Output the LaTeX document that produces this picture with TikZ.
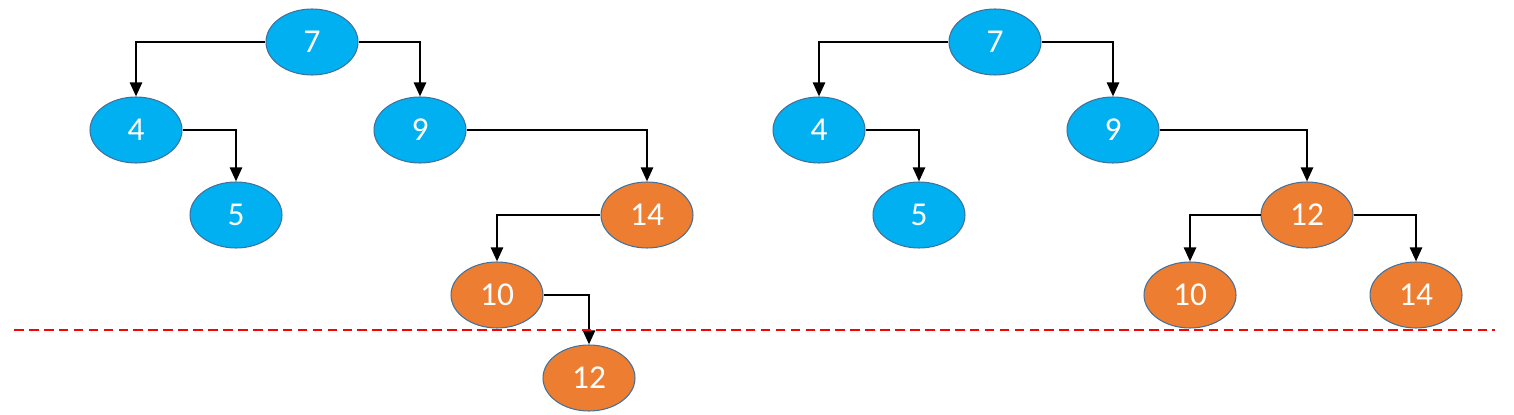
\documentclass[tikz,border=0pt]{standalone}
\usepackage{fontspec}
\setmainfont{Carlito}
\usetikzlibrary{arrows.meta,shapes.geometric}
\definecolor{nodeblue}{HTML}{00B0F0}
\definecolor{nodeorange}{HTML}{ED7D31}
\definecolor{rimblue}{HTML}{41719C}
\definecolor{cutred}{HTML}{FF0000}
\tikzset{
  bluenode/.style={ellipse, draw=rimblue, line width=0.6pt, fill=nodeblue,
    minimum width=1.84cm, minimum height=1.32cm, inner sep=0pt,
    text=white, font=\fontsize{19}{21}\selectfont},
  orangenode/.style={bluenode, fill=nodeorange},
  link/.style={-{Triangle[length=2.8mm,width=2.4mm]}, line width=1.4pt, draw=black},
  cutline/.style={dash pattern=on 5.5pt off 3pt, line width=1.2pt, draw=cutred}
}
\begin{document}
\begin{tikzpicture}[x=0.02cm, y=-0.02cm]
    \useasboundingbox (0,0) rectangle (1514,415);
    % before rotation
    \node[bluenode] (l7) at (312,42) {7};
    \node[bluenode] (l4) at (136,130) {4};
    \node[bluenode] (l9) at (420,130) {9};
    \node[bluenode] (l5) at (236,215) {5};
    \node[orangenode] (l14) at (647,215) {14};
    \node[orangenode] (l10) at (497,295) {10};
    \node[orangenode] (l12) at (589,378) {12};
    \draw[link] (l7.west) -| (l4.north);
    \draw[link] (l7.east) -| (l9.north);
    \draw[link] (l4.east) -| (l5.north);
    \draw[link] (l9.east) -| (l14.north);
    \draw[link] (l14.west) -| (l10.north);
    \draw[link] (l10.east) -| (l12.north);
    % after rotation
    \node[bluenode] (r7) at (995,42) {7};
    \node[bluenode] (r4) at (819,130) {4};
    \node[bluenode] (r9) at (1113,130) {9};
    \node[bluenode] (r5) at (919,215) {5};
    \node[orangenode] (r12) at (1307,215) {12};
    \node[orangenode] (r10) at (1190,295) {10};
    \node[orangenode] (r14) at (1416,295) {14};
    \draw[link] (r7.west) -| (r4.north);
    \draw[link] (r7.east) -| (r9.north);
    \draw[link] (r4.east) -| (r5.north);
    \draw[link] (r9.east) -| (r12.north);
    \draw[link] (r12.west) -| (r10.north);
    \draw[link] (r12.east) -| (r14.north);
    % height limit
    \coordinate (cutL) at (14,330);
    \coordinate (cutR) at (1495,330);
    \draw[cutline] (cutL) -- (cutR);
  \end{tikzpicture}
\end{document}
